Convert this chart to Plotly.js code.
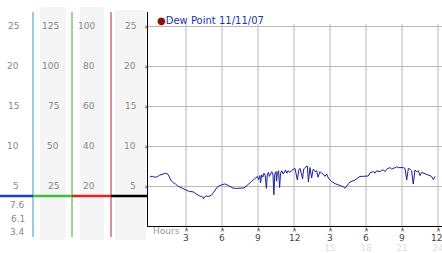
<!DOCTYPE html>
<html>
<head>
<meta charset="utf-8">
<script src="https://cdn.plot.ly/plotly-3.0.1.min.js"></script>
<style>html,body{margin:0;padding:0;background:#fff;}#chart{width:442px;height:253px;}</style>
</head>
<body>
<div id="chart"></div>
<script>
// ---- data ----
const hours = [0,0.2,0.4,0.6,0.8,1.0,1.2,1.35,1.5,1.65,1.8,1.95,2.1,2.3,2.5,2.7,2.9,3.1,3.3,3.5,3.7,3.85,4.0,4.15,4.3,4.4,4.45,4.55,4.7,4.85,5.0,5.15,5.3,5.45,5.6,5.8,6.0,6.2,6.35,6.5,6.7,6.9,7.2,7.5,7.8,8.0,8.2,8.4,8.55,8.7,
8.85,8.95,9.05,9.15,9.22,9.3,9.4,9.5,9.6,9.7,9.78,9.88,9.95,10.05,10.15,10.25,10.32,10.4,10.5,10.55,10.62,10.72,10.8,10.88,10.98,11.1,11.2,11.3,11.4,11.5,11.67,11.85,12.08,12.28,12.4,12.5,12.72,12.8,12.92,13.11,13.2,13.33,13.47,13.6,13.75,13.89,14.0,14.17,14.3,14.44,14.58,14.72,14.86,15.0,15.14,15.42,15.6,15.83,16.11,16.25,16.39,16.55,16.67,16.9,17.08,17.3,17.5,17.7,17.92,18.19,18.33,18.5,18.61,18.75,18.89,19.0,19.17,19.3,19.44,19.6,19.72,19.85,20.0,20.15,20.28,20.45,20.56,20.7,20.83,20.95,21.11,21.25,21.39,21.53,21.67,21.8,21.94,22.08,22.2,22.36,22.5,22.64,22.78,22.92,23.06,23.2,23.33,23.47,23.61,23.75];
const dewPoint = [6.2,6.2,6.1,6.15,6.35,6.5,6.55,6.6,6.45,6.0,5.6,5.4,5.3,5.0,4.85,4.7,4.5,4.35,4.3,4.3,4.2,4.0,3.85,3.75,3.7,3.6,3.4,3.65,3.75,3.7,3.75,3.9,4.2,4.55,4.85,5.05,5.2,5.25,5.2,5.05,4.85,4.75,4.7,4.7,4.75,4.95,5.25,5.5,5.7,5.85,
6.0,6.2,5.8,6.3,5.4,6.4,6.1,6.6,6.3,4.7,6.5,6.7,6.2,6.6,6.8,6.4,3.9,6.5,6.8,5.6,6.7,6.9,4.8,6.6,6.9,6.5,6.8,7.0,6.6,6.9,6.7,7.0,7.2,5.75,7.0,7.2,5.9,7.1,7.3,7.5,5.5,7.3,6.0,7.1,6.8,6.9,6.1,6.8,6.6,6.5,6.2,6.5,6.0,5.8,5.55,5.3,5.2,5.1,4.9,4.7,5.05,5.3,5.5,5.6,5.75,6.0,6.2,6.2,6.2,6.25,6.65,6.7,6.8,6.6,6.9,6.85,6.8,6.95,7.0,6.8,7.1,7.2,7.3,7.1,7.2,7.35,7.4,7.3,7.3,7.25,7.3,7.2,5.75,7.2,7.1,6.9,5.25,7.0,6.8,6.9,6.3,6.7,6.6,6.5,6.4,6.4,6.3,6.2,5.8,6.2];
const seriesName = "Dew Point 11/11/07";
const hourTicks = [3,6,9,12,15,18,21,24];
const hourTickText = ["3","6","9","12","3","6","9","12"];
const secondRowHours = [15,18,21,24];
const secondRowText = ["15","18","21","24"];
const col1Ticks = [5,10,15,20,25];
const col2Ticks = [25,50,75,100,125];
const col3Ticks = [20,40,60,80,100];
const col4Ticks = [5,10,15,20,25];
const statLabels = ["7.6","6.1","3.4"];
const markerLevel = 3.75;

// ---- geometry helpers ----
const W=442,H=253,L=148,R=0,T=12,B=27;
const yTop = 26.75;
const xRange = [-2/12, 24+4/12];
const px2x = p => (p-L)/(W-L-R);
const px2y = p => (H-B-p)/(H-T-B);
const FONT = "DejaVu Sans, Verdana, sans-serif";
const gridColor = "#b8b8b8";

const traces = [
  {x: hours, y: dewPoint, type:"scatter", mode:"lines", name: seriesName,
   line:{color:"#1c1c9c", width:1}, showlegend:false, hoverinfo:"skip"},
  {x: [], y: [], yaxis:"y2", type:"scatter", showlegend:false},
  {x: [], y: [], yaxis:"y3", type:"scatter", showlegend:false},
  {x: [], y: [], xaxis:"x2", type:"scatter", showlegend:false}
];

const shapes = [];
// grey columns
[[40,66,7],[80,104,7],[115,146,10]].forEach(c=>{
  shapes.push({type:"rect", xref:"paper", yref:"paper", x0:px2x(c[0]), x1:px2x(c[1]), y0:px2y(240), y1:px2y(c[2]),
    fillcolor:"#f5f5f5", line:{width:0}, layer:"below"});
});
// vertical grid lines
hourTicks.forEach(h=>{
  shapes.push({type:"line", xref:"x", yref:"y", x0:h, x1:h, y0:0, y1:25.25, line:{color:gridColor, width:1}, layer:"below"});
});
// colored vertical lines
[[33,"#3399cc"],[72,"#3aa63a"],[111,"#b22a2a"]].forEach(v=>{
  shapes.push({type:"line", xref:"paper", yref:"paper", x0:px2x(v[0]), x1:px2x(v[0]), y0:px2y(237), y1:px2y(12), line:{color:v[1], width:1}});
});
// colored level line
[[0,33,"#1e3fc8"],[33,72,"#3cc03c"],[72,111,"#e02222"],[111,148,"#000000"]].forEach(s=>{
  shapes.push({type:"line", xref:"paper", yref:"y", x0:px2x(s[0]), x1:px2x(s[1]), y0:markerLevel, y1:markerLevel, line:{color:s[2], width:2.5}});
});

const labFont = {family:FONT, size:9, color:"#888"};
const crossFont = {family:FONT, size:6, color:"#333"};
const annotations = [];
col1Ticks.forEach(v=>annotations.push({xref:"paper", yref:"y", x:px2x(21), y:v, xanchor:"right", yanchor:"middle", text:String(v), showarrow:false, font:labFont}));
col2Ticks.forEach(v=>annotations.push({xref:"paper", yref:"y2", x:px2x(61), y:v, xanchor:"right", yanchor:"middle", text:String(v), showarrow:false, font:labFont}));
col3Ticks.forEach(v=>annotations.push({xref:"paper", yref:"y3", x:px2x(97), y:v, xanchor:"right", yanchor:"middle", text:String(v), showarrow:false, font:labFont}));
col4Ticks.forEach(v=>annotations.push({xref:"paper", yref:"y", x:px2x(138), y:v, xanchor:"right", yanchor:"middle", text:String(v), showarrow:false, font:labFont}));
// small cross marks on the value axis and above the hour labels
col4Ticks.forEach(v=>annotations.push({xref:"paper", yref:"y", x:px2x(146.5), y:v, xanchor:"center", yanchor:"middle", text:"×", showarrow:false, font:crossFont, borderpad:0}));
hourTicks.forEach(h=>annotations.push({xref:"x", yref:"paper", x:h, y:px2y(229.5), xanchor:"center", yanchor:"middle", text:"×", showarrow:false, font:crossFont, borderpad:0}));
// hour labels
hourTicks.forEach((h,i)=>annotations.push({xref:"x", yref:"paper", x:h, y:px2y(238), xanchor:"center", yanchor:"middle", text:hourTickText[i], showarrow:false,
  xshift: (i===hourTicks.length-1) ? -2 : 0, font:{family:FONT, size:9, color:"#444"}}));
statLabels.forEach((t,i)=>annotations.push({xref:"paper", yref:"paper", x:px2x(27), y:px2y(205+i*13.5), xanchor:"right", yanchor:"middle", text:t, showarrow:false, font:labFont}));
annotations.push({xref:"paper", yref:"paper", x:px2x(151), y:px2y(231), xanchor:"left", yanchor:"middle", text:"Hours", showarrow:false, font:{family:FONT, size:9, color:"#999"}});

const layout = {
  width:W, height:H,
  margin:{l:L, r:R, t:T, b:B, pad:0},
  paper_bgcolor:"#fff", plot_bgcolor:"#fff",
  showlegend:false,
  title:{text:'<span style="color:#8b0f0f">●</span>' + seriesName, x:157/W, xref:"container", xanchor:"left",
         y:1-20.5/H, yref:"container", yanchor:"middle", font:{family:FONT, size:10, color:"#2233aa"}},
  xaxis:{range:xRange, tickvals:hourTicks, ticks:"outside", ticklen:3, tickcolor:"#999", showticklabels:false,
         showline:true, linecolor:"#000", linewidth:1, showgrid:false, zeroline:false, fixedrange:true},
  xaxis2:{range:xRange, overlaying:"x", side:"bottom", anchor:"y", tickvals:secondRowHours, ticktext:secondRowText,
          ticks:"", showline:false, showgrid:false, zeroline:false, ticklabelstandoff:15, ticklabeloverflow:"allow",
          tickfont:{family:FONT, size:9, color:"#dedede"}, fixedrange:true},
  yaxis:{range:[0,yTop], tickvals:col4Ticks, showticklabels:false, ticks:"", showgrid:true, gridcolor:gridColor, gridwidth:1,
         showline:true, linecolor:"#000", linewidth:1, zeroline:false, fixedrange:true},
  yaxis2:{range:[0,yTop*5], overlaying:"y", visible:false, showgrid:false},
  yaxis3:{range:[0,yTop*4], overlaying:"y", visible:false, showgrid:false},
  shapes: shapes,
  annotations: annotations
};
Plotly.newPlot("chart", traces, layout, {staticPlot:true, displayModeBar:false});
</script>
</body>
</html>
